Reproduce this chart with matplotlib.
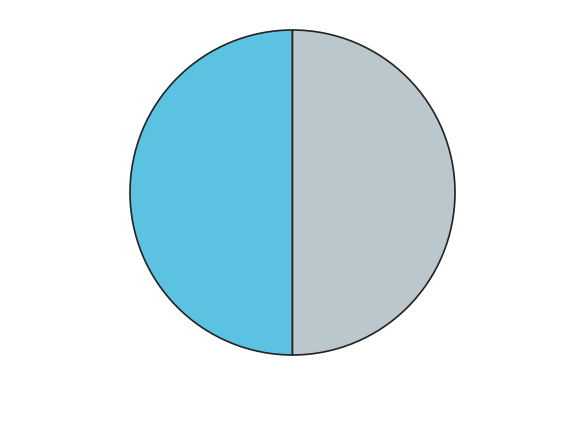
import matplotlib
matplotlib.use("Agg")
import matplotlib.pyplot as plt

labels = ["A", "B"]
values = [50, 50]
colors = ["#5bc2e1", "#bac7cc"]

fig = plt.figure(figsize=(5.85, 4.39), dpi=100)
# circle centre ~ (292.5, 191.5) px, radius ~162.5 px
ax = fig.add_axes([130 / 585, 83 / 439, 325 / 585, 325 / 439])
ax.pie(values, colors=colors, startangle=90, counterclock=True,
       wedgeprops=dict(edgecolor="#222222", linewidth=1.2))
ax.set_xlim(-1, 1)
ax.set_ylim(-1, 1)
ax.set_aspect("equal")
ax.axis("off")

fig.savefig("out.png", dpi=100)
